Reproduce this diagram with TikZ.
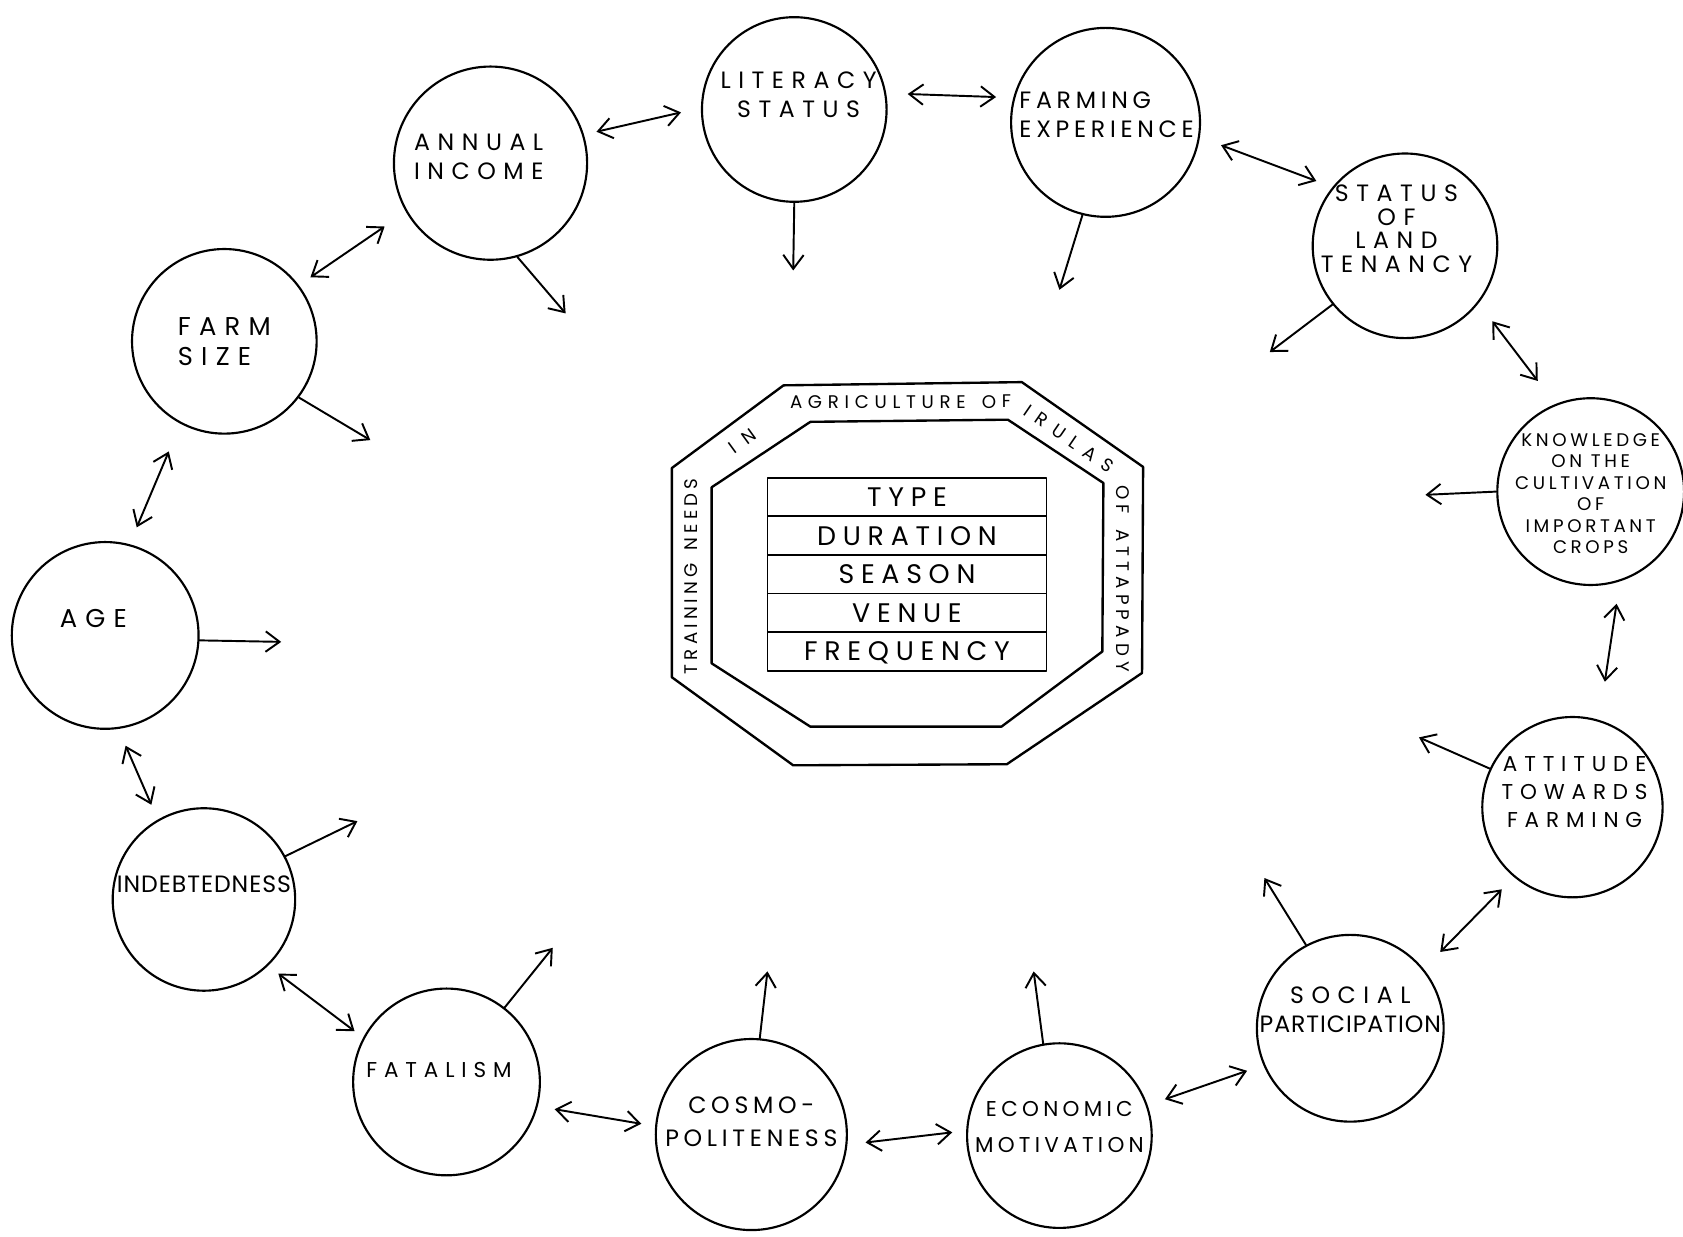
\documentclass[tikz,border=0pt]{standalone}
\usepackage{fontspec}
\setmainfont{Poppins}
\newfontfamily\loosefont{Poppins}[LetterSpace=32]
\newfontfamily\midfont{Poppins}[LetterSpace=20]
\newfontfamily\closefont{Poppins}[LetterSpace=4]
\newfontfamily\tablefont{Poppins}[LetterSpace=25]
\usetikzlibrary{arrows.meta,positioning,decorations.text}

\begin{document}
\begin{tikzpicture}[x=1pt,y=-1pt,line cap=round,line join=round,
    >={Straight Barb[length=13pt,width=19pt]}]
  \tikzstyle{factor}=[draw,circle,line width=2pt,minimum size=174pt,inner sep=0pt]
  \tikzstyle{lbl}=[font=\fontsize{22}{27}\selectfont\loosefont,align=center,inner sep=0pt]
  \tikzstyle{link}=[<->,line width=1.8pt]
  \tikzstyle{effect}=[->,line width=1.8pt]
  \tikzstyle{cell}=[draw,line width=1.6pt,minimum width=260pt,minimum height=36pt,inner sep=0pt,outer sep=0pt,
      text height=17.5pt,text depth=0pt,font=\fontsize{25}{25}\selectfont\tablefont]
  \tikzset{bandtext/.style={decorate,decoration={text along path,text align={fit to path},raise=-6pt,
      text={|\fontsize{17}{17}\selectfont|#1}}}}

  \useasboundingbox (0,0) rectangle (1568,1152);

  % central octagon
  \draw[line width=2.2pt] (730,359) -- (952,356) -- (1065,435) -- (1064,627) -- (938,712) -- (739,713) -- (626,631) -- (626,436) -- cycle;
  \draw[line width=2.2pt] (755,393) -- (939,391) -- (1028,450) -- (1027,607) -- (933,677) -- (755,677) -- (663,618) -- (663,454) -- cycle;
  \path[bandtext={TRAINING NEEDS}] (644,628) -- (644,446);
  \path[bandtext={IN}] (681,419) -- (703,403);
  \path[bandtext={AGRICULTURE OF}] (736,375) -- (942,374);
  \path[bandtext={IRULAS}] (956,381) -- (1036,436);
  \path[bandtext={OF ATTAPPADY}] (1046,452) -- (1046,626);

  \node[cell] (type) at (845,463) {TYPE};
  \node[cell,below=0pt of type] (dur) {DURATION};
  \node[cell,below=0pt of dur] (season) {SEASON};
  \node[cell,below=0pt of season] (venue) {VENUE};
  \node[cell,below=0pt of venue] (freq) {FREQUENCY};

  % factors
  \node[factor,minimum size=180pt,label={[lbl,xshift=-11pt,yshift=6pt]center:ANNUAL\\INCOME}] (inc) at (457,152) {};
  \node[factor,minimum size=172pt,label={[lbl,xshift=4pt,yshift=14pt]center:LITERACY\\STATUS}] (lit) at (740,102) {};
  \node[factor,minimum size=176pt,label={[lbl,font=\fontsize{22}{27}\selectfont\midfont,align=left,xshift=1pt,yshift=7pt]center:FARMING\\EXPERIENCE}] (exp) at (1030,114) {};
  \node[factor,minimum size=172pt,label={[lbl,font=\fontsize{22}{22}\selectfont\loosefont,xshift=-8pt,yshift=16pt]center:STATUS\\OF\\LAND\\TENANCY}] (ten) at (1309,229) {};
  \node[factor,label={[lbl,font=\fontsize{17}{20}\selectfont\midfont,yshift=-2pt]center:KNOWLEDGE\\ON THE\\CULTIVATION\\OF\\IMPORTANT\\CROPS}] (know) at (1482,458) {};
  \node[factor,minimum size=168pt,label={[lbl,font=\fontsize{20}{26}\selectfont\loosefont,xshift=2pt,yshift=14pt]center:ATTITUDE\\TOWARDS\\FARMING}] (att) at (1465,752) {};
  \node[factor,label={[lbl,yshift=17pt]center:SOCIAL\\{\closefont PARTICIPATION}}] (soc) at (1258,958) {};
  \node[factor,minimum size=172pt,label={[lbl,font=\fontsize{20}{33}\selectfont\midfont,yshift=8pt]center:ECONOMIC\\MOTIVATION}] (eco) at (987,1058) {};
  \node[factor,minimum size=178pt,label={[lbl,font=\fontsize{22}{30}\selectfont\midfont,yshift=12pt]center:COSMO-\\POLITENESS}] (cos) at (700,1057) {};
  \node[factor,label={[lbl,font=\fontsize{20}{26}\selectfont\loosefont,xshift=-7pt,yshift=11pt]center:FATALISM}] (fat) at (416,1008) {};
  \node[factor,minimum size=170pt,label={[lbl,font=\fontsize{22}{26}\selectfont\closefont,yshift=14pt]center:INDEBTEDNESS}] (debt) at (190,838) {};
  \node[factor,label={[lbl,font=\fontsize{24}{28}\selectfont\loosefont,xshift=-11pt,yshift=16pt]center:AGE}] (age) at (98,592) {};
  \node[factor,minimum size=172pt,label={[lbl,font=\fontsize{24}{28}\selectfont\loosefont,align=left]center:FARM\\SIZE}] (size) at (209,318) {};

  % ring of two-way links
  \draw[link,shorten <=12pt,shorten >=19pt] (inc.17) -- (lit.179);
  \draw[link,shorten <=20pt,shorten >=16pt] (lit.10) -- (exp.165);
  \draw[link,shorten <=21pt,shorten >=16pt] (exp.-9) -- (ten.141);
  \draw[link,shorten <=21pt,shorten >=27pt] (ten.-38) -- (know.112);
  \draw[link,shorten <=21pt,shorten >=36pt] (know.-72) -- (att.73);
  \draw[link,shorten <=16pt,shorten >=22pt] (att.-130) -- (soc.39);
  \draw[link,shorten <=16pt,shorten >=17pt] (soc.203) -- (eco.19);
  \draw[link,shorten <=13pt,shorten >=17pt] (eco.177) -- (cos.-6);
  \draw[link,shorten <=13pt,shorten >=16pt] (cos.175) -- (fat.-15);
  \draw[link,shorten <=10pt,shorten >=12pt] (fat.152) -- (debt.-46);
  \draw[link,shorten <=15pt,shorten >=17pt] (debt.120) -- (age.-82);
  \draw[link,shorten <=17pt,shorten >=28pt] (age.75) -- (size.-118);
  \draw[link,shorten <=13pt,shorten >=24pt] (size.37) -- (inc.-150);

  % arrows towards the training needs
  \coordinate (inc-t) at (527,292);
  \coordinate (lit-t) at (739,252);
  \coordinate (exp-t) at (987,270);
  \coordinate (ten-t) at (1183,328);
  \coordinate (know-t) at (1328,461);
  \coordinate (att-t) at (1322,687);
  \coordinate (soc-t) at (1178,818);
  \coordinate (eco-t) at (963,905);
  \coordinate (cos-t) at (715,905);
  \coordinate (fat-t) at (515,883);
  \coordinate (debt-t) at (333,765);
  \coordinate (age-t) at (262,598);
  \coordinate (size-t) at (345,410);

  \draw[effect] (inc.-74) -- (inc-t);
  \draw[effect] (lit.-90) -- (lit-t);
  \draw[effect] (exp.-104) -- (exp-t);
  \draw[effect] (ten.-141) -- (ten-t);
  \draw[effect] (know.180) -- (know-t);
  \draw[effect] (att.155) -- (att-t);
  \draw[effect] (soc.118) -- (soc-t);
  \draw[effect] (eco.100) -- (eco-t);
  \draw[effect] (cos.85) -- (cos-t);
  \draw[effect] (fat.52) -- (fat-t);
  \draw[effect] (debt.28) -- (debt-t);
  \draw[effect] (age.-3) -- (age-t);
  \draw[effect] (size.-37) -- (size-t);

\end{tikzpicture}
\end{document}
